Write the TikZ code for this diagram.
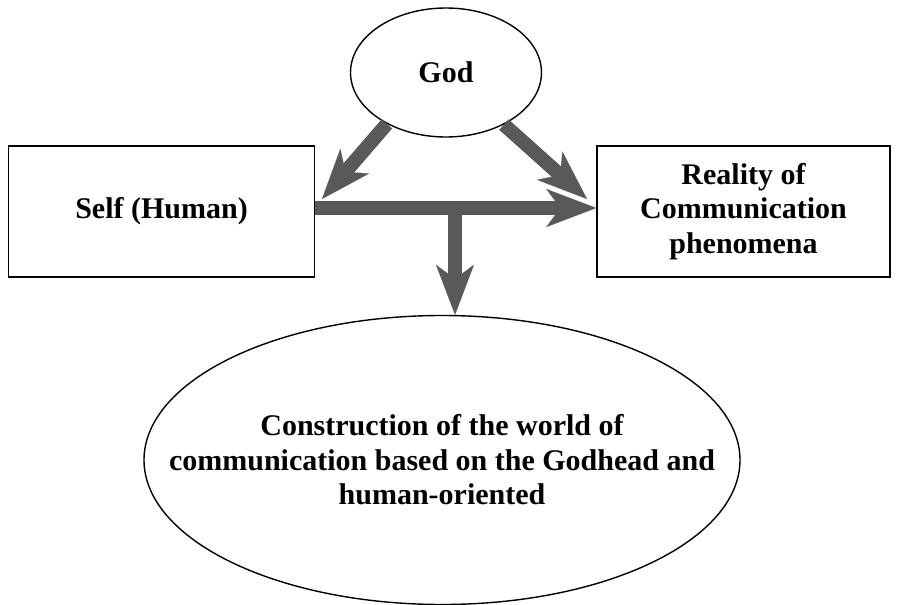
\documentclass[tikz,border=0pt]{standalone}
\usepackage{fontspec}
\setmainfont{Liberation Serif}
\usetikzlibrary{arrows.meta,shapes.geometric}
\definecolor{arrowgray}{RGB}{88,89,91}
\begin{document}
\begin{tikzpicture}[x=1pt,y=-1pt,
  txt/.style={font=\bfseries\fontsize{30}{34.5}\selectfont, align=center, text=black},
  oval/.style={ellipse, draw=black, line width=1.4pt, inner sep=0pt, txt},
  box/.style={rectangle, draw=black, line width=1.4pt, inner sep=0pt, txt},
  bigarrow/.style={draw=arrowgray, line width=14pt,
    -{Stealth[length=50pt, width=38pt, inset=14pt, line width=0.1pt, fill=arrowgray]}}
]
\useasboundingbox (0,0) rectangle (897,605);
\node[oval, inner xsep=-20pt, minimum width=191pt, minimum height=129pt] (god) at (446,72.5) {God};
\node[box, minimum width=306pt, minimum height=131pt] (self) at (161.5,211.5) {Self (Human)};
\node[box, minimum width=293pt, minimum height=131pt] (real) at (743.5,211.5) {Reality of\\Communication\\phenomena};
\node[oval, inner xsep=-70pt, inner ysep=-10pt, minimum width=596pt, minimum height=289pt] (big) at (442,460) {Construction of the world of\\communication based on the Godhead and\\human-oriented};
\coordinate (hy) at (0,208);
\coordinate (lt) at (322,199);
\coordinate (rt) at (587,199);
\coordinate (vx) at (455,208);
\draw[bigarrow] (god.221) -- (lt);
\draw[bigarrow] (god.318) -- (rt);
\draw[bigarrow] (self.east |- hy) -- (real.west |- hy);
\draw[bigarrow] (vx) -- (vx |- big.north);
\end{tikzpicture}
\end{document}
